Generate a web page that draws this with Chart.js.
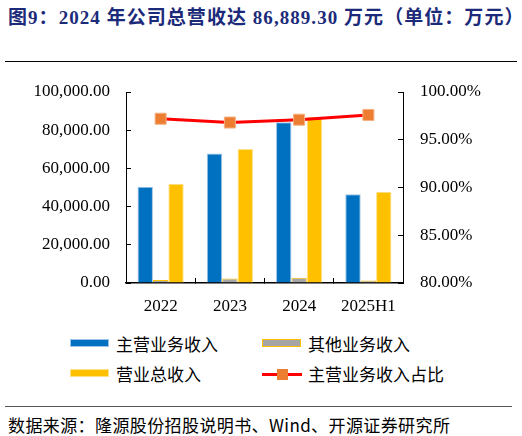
<!DOCTYPE html>
<html>
<head>
<meta charset="utf-8">
<script src="https://cdn.jsdelivr.net/npm/chart.js@4"></script>
<style>
  body { margin: 0; background: #fff; width: 522px; height: 436px; overflow: hidden; position: relative; }
  #title { position: absolute; left: 8px; top: 2px; font: bold 19px "Liberation Serif", "Noto Sans CJK SC"; letter-spacing: 1.05px; color: #1C2A7A; white-space: nowrap; }
  #topline { position: absolute; left: 5px; top: 61px; width: 512px; height: 0; border-top: 1.5px solid #000; }
  #wrap { position: absolute; left: 0; top: 0; width: 522px; height: 330px; }
  .lg { position: absolute; font: 17px "Noto Sans CJK SC", "Liberation Serif"; color: #000; white-space: nowrap; line-height: 20px; }
  .sw { position: absolute; width: 39px; height: 8px; }
  #botline { position: absolute; left: 5px; top: 406px; width: 507px; height: 0; border-top: 1px solid #555; }
  #source { position: absolute; left: 8px; top: 414px; font: 17px "Noto Sans CJK SC", "Liberation Serif"; letter-spacing: 0.4px; color: #000; white-space: nowrap; line-height: 22px; }
</style>
</head>
<body>
<div id="title">图9：2024 年公司总营收达 86,889.30 万元（单位：万元）</div>
<div id="topline"></div>
<div id="wrap"><canvas id="myChart"></canvas></div>
<div id="legend"></div>
<div id="botline"></div>
<div id="source">数据来源：隆源股份招股说明书、Wind、开源证券研究所</div>
<script>
// 数据（万元）
var categorias = ["2022", "2023", "2024", "2025H1"];
var zhuying = [50400, 67800, 84200, 46450];      // 主营业务收入
var qita = [1600, 2300, 2690, 1350];             // 其他业务收入
var zongshouru = [52000, 70100, 86889.30, 47800]; // 营业总收入
var zhanbi = [97.2, 96.8, 97.1, 97.6];           // 主营业务收入占比 (%)

var leftTicks = [0, 20000, 40000, 60000, 80000, 100000];
var rightTicks = [80, 85, 90, 95, 100];

var serif = "'Liberation Serif', 'Times New Roman', serif";

function fmtMiles(v) {
    return v.toLocaleString("en-US", { minimumFractionDigits: 2, maximumFractionDigits: 2 });
}

var ctx = document.getElementById("myChart").getContext("2d");
var myChart = new Chart(ctx, {
    type: "bar",
    data: {
        labels: categorias,
        datasets: [
            {
                label: "主营业务收入",
                data: zhuying,
                backgroundColor: "#0070C0",
                borderColor: "#9DC3E6",
                borderWidth: 1,
                yAxisID: "y",
                order: 2
            },
            {
                label: "其他业务收入",
                data: qita,
                backgroundColor: "#A5A5A5",
                borderColor: "#FFC000",
                borderWidth: 1,
                yAxisID: "y",
                order: 2
            },
            {
                label: "营业总收入",
                data: zongshouru,
                backgroundColor: "#FFC000",
                borderColor: "#FFE08A",
                borderWidth: 1,
                yAxisID: "y",
                order: 2
            },
            {
                type: "line",
                label: "主营业务收入占比",
                data: zhanbi,
                borderColor: "#FF0000",
                borderWidth: 3,
                pointStyle: "rect",
                pointRadius: 7.8,
                pointBackgroundColor: "#ED7D31",
                pointBorderColor: "#F4B183",
                pointBorderWidth: 1,
                tension: 0,
                yAxisID: "y1",
                order: 1
            }
        ]
    },
    options: {
        responsive: true,
        maintainAspectRatio: false,
        animation: false,
        layout: { padding: { left: 0, right: 0, top: 92, bottom: 0 } },
        datasets: { bar: { categoryPercentage: 0.667, barPercentage: 1.0 } },
        plugins: { legend: { display: false }, tooltip: { enabled: false } },
        scales: {
            x: {
                offset: true,
                grid: { offset: true, drawOnChartArea: false, color: "#000", tickLength: -5, lineWidth: 1 },
                border: { color: "#000", width: 1.5 },
                ticks: { color: "#000", font: { family: serif, size: 17 }, padding: 18 },
                afterFit: function (s) { s.height = 47; }
            },
            y: {
                position: "left",
                min: 0,
                max: 100000,
                afterBuildTicks: function (s) { s.ticks = leftTicks.map(function (v) { return { value: v }; }); },
                grid: { drawOnChartArea: false, color: "#000", tickLength: -5 },
                border: { color: "#000", width: 1 },
                ticks: { color: "#000", font: { family: serif, size: 17 }, padding: 21, callback: function (v) { return fmtMiles(v); } },
                afterFit: function (s) { s.width = 126; }
            },
            y1: {
                position: "right",
                min: 80,
                max: 100,
                afterBuildTicks: function (s) { s.ticks = rightTicks.map(function (v) { return { value: v }; }); },
                grid: { drawOnChartArea: false, color: "#000", tickLength: -5 },
                border: { color: "#000", width: 1 },
                ticks: { color: "#000", font: { family: serif, size: 17 }, padding: 22, callback: function (v) { return v.toFixed(2) + "%"; } },
                afterFit: function (s) { s.width = 119; }
            }
        }
    }
});

// Leyenda en dos columnas con los colores de los datasets
(function crearLeyenda() {
    var pos = [[70, 344], [262, 344], [70, 374], [262, 374]];
    var orden = [0, 1, 2, 3];
    var html = "";
    orden.forEach(function (i, k) {
        var ds = myChart.data.datasets[i];
        var x = pos[k][0], y = pos[k][1];
        if (ds.type === "line") {
            html += '<div style="position:absolute;left:' + x + 'px;top:' + (y - 1.5) + 'px;width:40px;height:3px;background:' + ds.borderColor + '"></div>';
            html += '<div style="position:absolute;left:' + (x + 14.5) + 'px;top:' + (y - 5.5) + 'px;width:11px;height:11px;background:' + ds.pointBackgroundColor + '"></div>';
        } else {
            html += '<div class="sw" style="left:' + x + 'px;top:' + (y - 5) + 'px;background:' + ds.backgroundColor + ';box-sizing:border-box;border:1px solid ' + ds.borderColor + '"></div>';
        }
        html += '<div class="lg" style="left:' + (x + 46) + 'px;top:' + (y - 10) + 'px">' + ds.label + '</div>';
    });
    document.getElementById("legend").innerHTML = html;
})();
</script>
</body>
</html>
